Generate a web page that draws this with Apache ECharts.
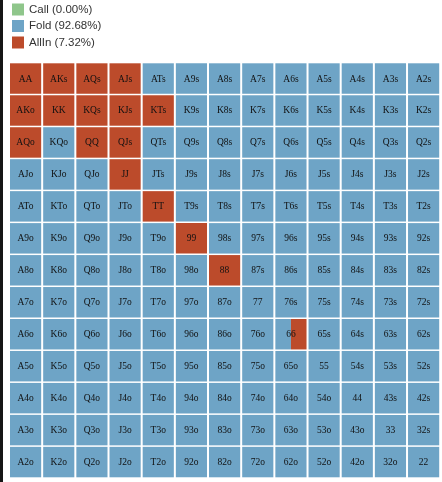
<!DOCTYPE html>
<html>
<head>
<meta charset="utf-8">
<script src="https://cdn.jsdelivr.net/npm/echarts@6/dist/echarts.min.js"></script>
<style>
html,body{margin:0;padding:0;background:#fff;}
#side{position:absolute;left:0;top:0;width:3px;height:482px;background:#151515;}
#c{width:442px;height:482px;}
</style>
</head>
<body>
<div id="c"></div>
<div id="side"></div>
<script>
// ---- data ----
const ranks = ['A','K','Q','J','T','9','8','7','6','5','4','3','2'];
const actions = ['Call','Fold','AllIn'];
const legendPct = ['0.00','92.68','7.32'];
const callHands = [];
const callFreq = [];
const allinHands = ['AA','KK','QQ','JJ','TT','99','88','66','AKs','AQs','AJs','KQs','KJs','KTs','QJs','AKo','AQo'];
const allinFreq  = [1,1,1,1,1,1,1,0.5,1,1,1,1,1,1,1,1,1];

// ---- build ----
function handName(r, c) {
  if (r === c) return ranks[r] + ranks[c];
  if (c > r) return ranks[r] + ranks[c] + 's';
  return ranks[c] + ranks[r] + 'o';
}
const colors = {Call:'#8fc68b', Fold:'#6ea4c6', AllIn:'#bc4b2b'};
const segData = {Call:[], Fold:[], AllIn:[]};
const labelData = [];
for (let r = 0; r < 13; r++) {
  for (let c = 0; c < 13; c++) {
    const h = handName(r, c);
    const ci = callHands.indexOf(h), ai = allinHands.indexOf(h);
    const call = ci >= 0 ? callFreq[ci] : 0;
    const allin = ai >= 0 ? allinFreq[ai] : 0;
    const fold = 1 - call - allin;
    segData.Call.push([c, r, 0, call]);
    segData.Fold.push([c, r, call, call + fold]);
    segData.AllIn.push([c, r, call + fold, call + fold + allin]);
    labelData.push([c, r, h]);
  }
}
function cellRect(api) {
  const p = api.coord([api.value(0), api.value(1)]);
  const s = api.size([1, 1]);
  return {x: p[0] - s[0] / 2 + 1, y: p[1] - s[1] / 2 + 0.75, w: s[0] - 2, h: s[1] - 1.5};
}
const series = actions.map(a => ({
  name: a,
  type: 'custom',
  color: colors[a],
  itemStyle: {color: colors[a]},
  encode: {x: 0, y: 1},
  data: segData[a],
  renderItem: function (params, api) {
    const start = api.value(2), end = api.value(3);
    if (end - start <= 0) return null;
    const r = cellRect(api);
    return {
      type: 'rect',
      shape: {x: r.x + start * r.w, y: r.y, width: (end - start) * r.w, height: r.h},
      style: {fill: colors[a]}
    };
  }
}));
series.push({
  name: 'labels',
  type: 'custom',
  z: 10,
  silent: true,
  encode: {x: 0, y: 1},
  data: labelData,
  renderItem: function (params, api) {
    const p = api.coord([api.value(0), api.value(1)]);
    return {
      type: 'text',
      style: {
        x: p[0], y: p[1] + 0.5,
        text: labelData[params.dataIndex][2],
        fill: '#111',
        font: '9.5px "Liberation Serif", serif',
        align: 'center', verticalAlign: 'middle'
      }
    };
  }
});

const chart = echarts.init(document.getElementById('c'));
chart.setOption({
  animation: false,
  backgroundColor: '#fff',
  legend: {
    data: actions,
    orient: 'vertical',
    left: 12, top: 3.5,
    padding: 0,
    itemWidth: 12, itemHeight: 12, itemGap: 4.5,
    icon: 'rect',
    textStyle: {fontSize: 11.5, fontFamily: '"Liberation Sans", Arial, sans-serif', color: '#333'},
    formatter: name => name + ' (' + legendPct[actions.indexOf(name)] + '%)'
  },
  grid: {left: 9, top: 62.55, width: 431.2, height: 415.5},
  xAxis: {type: 'category', data: ranks, show: false},
  yAxis: {type: 'category', data: ranks, inverse: true, show: false},
  series: series
});
</script>
</body>
</html>
